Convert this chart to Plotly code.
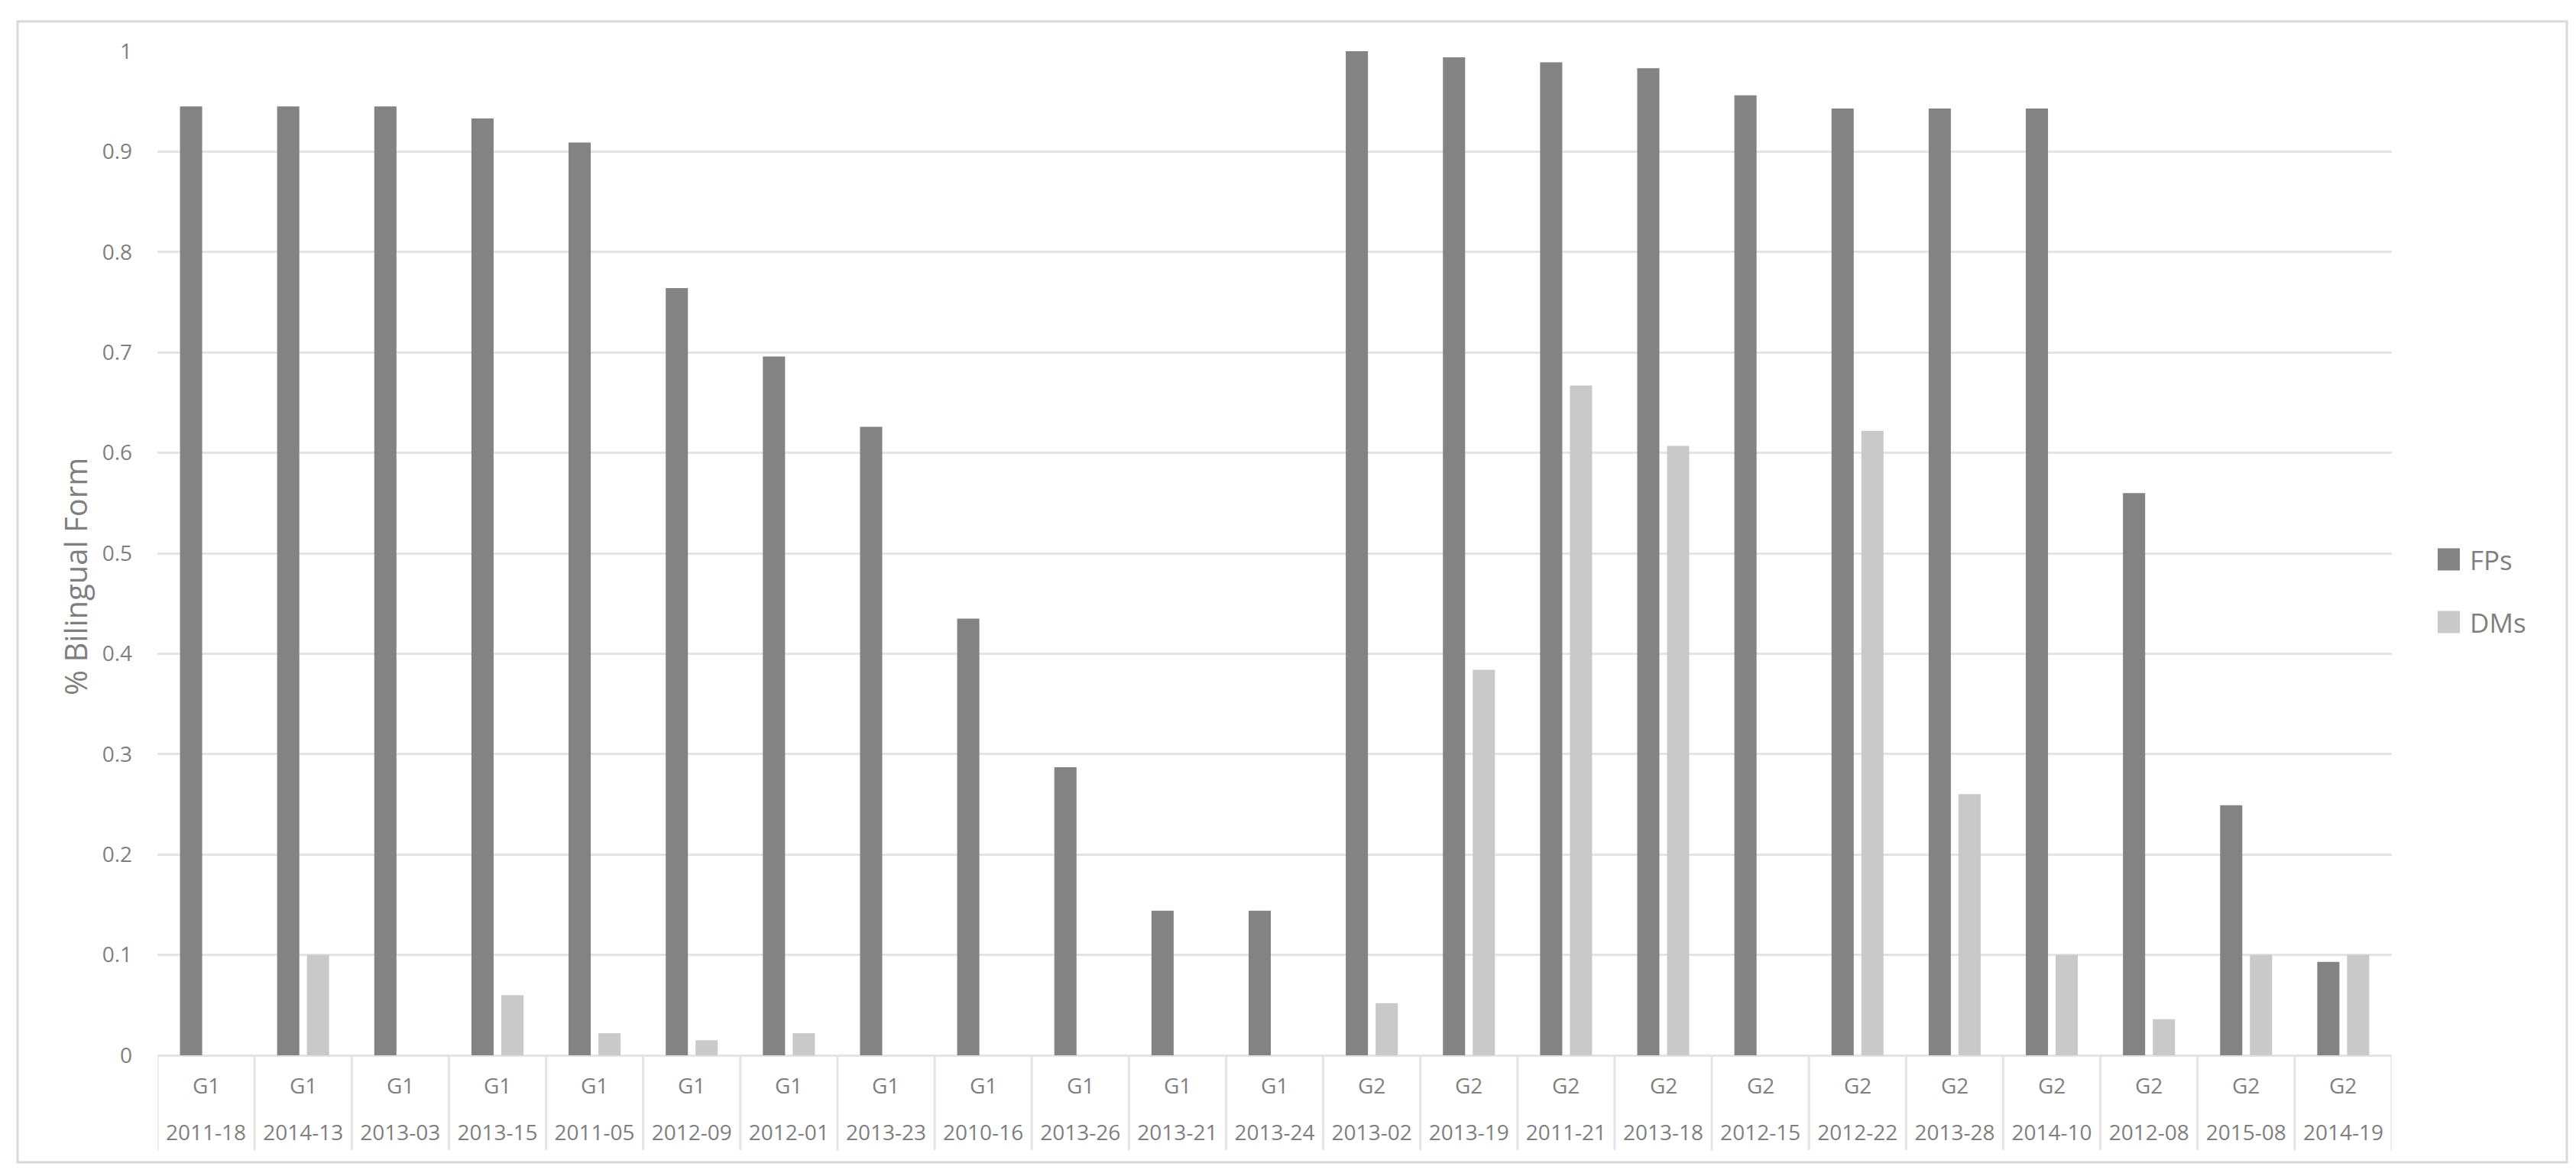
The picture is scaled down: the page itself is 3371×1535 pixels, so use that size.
import plotly.graph_objects as go

# ---- data ----
groups = ["G1"] * 12 + ["G2"] * 11
codes = ["2011-18", "2014-13", "2013-03", "2013-15", "2011-05", "2012-09", "2012-01",
         "2013-23", "2010-16", "2013-26", "2013-21", "2013-24", "2013-02", "2013-19",
         "2011-21", "2013-18", "2012-15", "2012-22", "2013-28", "2014-10", "2012-08",
         "2015-08", "2014-19"]
fps = [0.945, 0.945, 0.945, 0.933, 0.909, 0.764, 0.696, 0.626, 0.435, 0.287, 0.144, 0.144,
       1.0, 0.994, 0.989, 0.983, 0.956, 0.943, 0.943, 0.943, 0.560, 0.249, 0.093]
dms = [0.0, 0.1, 0.0, 0.06, 0.022, 0.015, 0.022, 0.0, 0.0, 0.0, 0.0, 0.0,
       0.052, 0.384, 0.667, 0.607, 0.0, 0.622, 0.26, 0.1, 0.036, 0.1, 0.1]
series_names = ["FPs", "DMs"]
y_title = "% Bilingual Form"

# ---- style ----
C_FP = "#838383"
C_DM = "#C9C9C9"
GRID = "#E4E4E4"
TXT = "#7F7F7F"
FONT = "Open Sans"

W, H = 3371, 1535
L, R, T, B = 198, 3122, 59, 1373


def px(x):
    return (x - L) / (R - L)


def py(y):
    return (B - y) / (B - T)


n = len(codes)
xs = list(range(n))

fig = go.Figure()
fig.add_bar(x=xs, y=fps, name=series_names[0], marker=dict(color=C_FP, line=dict(width=0)))
fig.add_bar(x=xs, y=dms, name=series_names[1], marker=dict(color=C_DM, line=dict(width=0)))

fig.update_layout(
    width=W, height=H,
    margin=dict(l=L, r=W - R, t=T, b=H - B, pad=0),
    paper_bgcolor="white", plot_bgcolor="white",
    barmode="group", bargap=0.386, bargroupgap=0.256,
    showlegend=False,
    font=dict(family=FONT, color=TXT),
)
fig.update_xaxes(
    tickmode="array", tickvals=xs, ticktext=codes,
    range=[-0.5, n - 0.5], showgrid=False, zeroline=False, showline=False,
    ticks="", tickfont=dict(family=FONT, size=28, color=TXT),
    ticklabelstandoff=82,
)
fig.update_yaxes(
    range=[0, 1], tick0=0, dtick=0.1,
    showgrid=True, gridcolor=GRID, gridwidth=3,
    zeroline=True, zerolinecolor=GRID, zerolinewidth=3,
    showline=False, ticks="",
    tickfont=dict(family=FONT, size=28, color=TXT),
    ticklabelstandoff=32,
)

shapes = []
# outer chart border
shapes.append(dict(type="rect", xref="paper", yref="paper",
                   x0=px(15), x1=px(3351), y0=py(1513), y1=py(20),
                   line=dict(color="#D9D9D9", width=3), fillcolor="rgba(0,0,0,0)", layer="below"))
# category dividers
for i in range(n + 1):
    shapes.append(dict(type="line", xref="x", yref="paper",
                       x0=i - 0.5, x1=i - 0.5, y0=py(1497), y1=py(1373),
                       line=dict(color=GRID, width=3)))
# legend swatches
leg_y = [724, 806]
leg_c = [C_FP, C_DM]
for yy, cc in zip(leg_y, leg_c):
    shapes.append(dict(type="rect", xref="paper", yref="paper",
                       x0=px(3182), x1=px(3211), y0=py(yy + 14.5), y1=py(yy - 14.5),
                       line=dict(width=0), fillcolor=cc))
fig.update_layout(shapes=shapes)

annotations = []
# outer category level labels
for i, g in enumerate(groups):
    annotations.append(dict(xref="x", yref="paper", x=i, y=py(1412),
                            xanchor="center", yanchor="middle", showarrow=False,
                            text=g, font=dict(family=FONT, size=28, color=TXT)))
for yy, name in zip(leg_y, series_names):
    annotations.append(dict(xref="paper", yref="paper", x=px(3222), y=py(yy),
                            xanchor="left", yanchor="middle", showarrow=False,
                            text=name, font=dict(family=FONT, size=35, color=TXT)))
annotations.append(dict(xref="paper", yref="paper", x=px(90), y=py(747),
                        xanchor="center", yanchor="middle", showarrow=False, textangle=-90,
                        text=y_title, font=dict(family=FONT, size=40, color=TXT)))
fig.update_layout(annotations=annotations)

fig.write_html("out.html")
